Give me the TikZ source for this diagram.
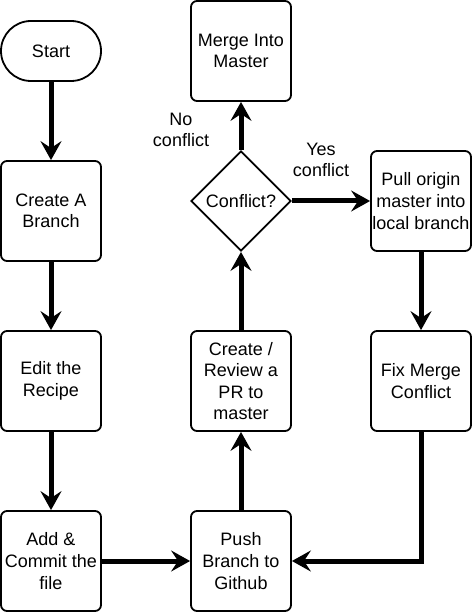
\documentclass[tikz,border=0pt]{standalone}
\usepackage{fontspec}
\setmainfont{Liberation Sans}
\usetikzlibrary{arrows.meta,positioning,shapes.geometric}
\begin{document}
\begin{tikzpicture}[x=1pt,y=-1pt,
  every node/.style={font=\fontsize{18}{21.6}\selectfont, align=center, inner sep=0pt},
  box/.style={draw, line width=1.8pt, rounded corners=6pt, minimum width=100pt, minimum height=100pt},
  stadium/.style={draw, line width=1.8pt, rounded corners=30pt, minimum width=100pt, minimum height=60pt},
  decision/.style={draw, line width=1.8pt, shape=diamond, minimum width=100pt, minimum height=100pt, inner sep=0pt},
  flow/.style={line width=5pt, -{Stealth[length=19pt,width=21pt,inset=7pt]}},
  lbl/.style={}
]
\useasboundingbox (0,0) rectangle (472,612);
\node[stadium] (start) at (51,51) {Start};
\node[box] (branch) at (51,211) {Create A\\Branch};
\node[box] (edit) at (51,381) {Edit the\\Recipe};
\node[box] (commit) at (51,561) {Add \&\\Commit the\\file};
\node[box] (push) at (241,561) {Push\\Branch to\\Github};
\node[box] (pr) at (241,381) {Create /\\Review a\\PR to\\master};
\node[decision] (conflict) at (241,201) {Conflict?};
\node[box] (merge) at (241,51) {Merge Into\\Master};
\node[box] (pull) at (421,201) {Pull origin\\master into\\local branch};
\node[box] (fix) at (421,381) {Fix Merge\\Conflict};
\coordinate (corner) at (421,561);
\node[lbl] (nolbl) at (181,130) {No\\conflict};
\node[lbl] (yeslbl) at (321,160) {Yes\\conflict};
\draw[flow] (start) -- (branch);
\draw[flow] (branch) -- (edit);
\draw[flow] (edit) -- (commit);
\draw[flow] (commit) -- (push);
\draw[flow] (push) -- (pr);
\draw[flow] (pr) -- (conflict);
\draw[flow] (conflict) -- (merge);
\draw[flow] (conflict) -- (pull);
\draw[flow] (pull) -- (fix);
\draw[flow] (fix.south) -- (corner) -- (push.east);
\end{tikzpicture}
\end{document}
